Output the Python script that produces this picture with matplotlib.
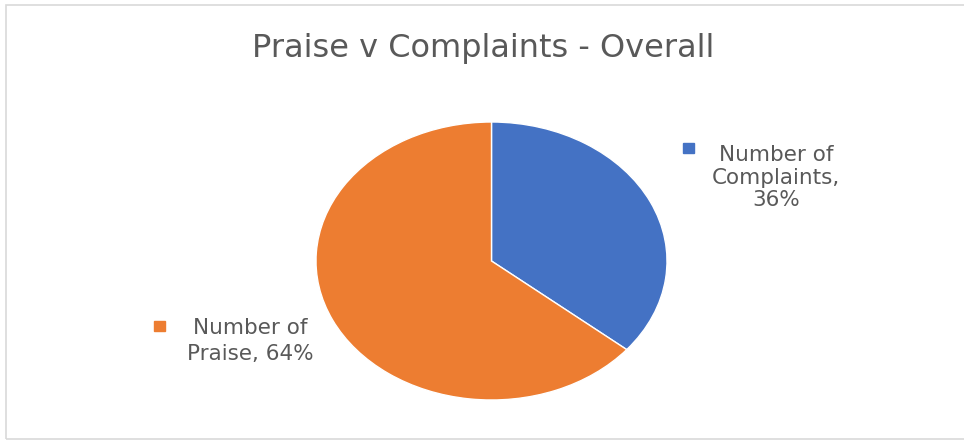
import matplotlib.pyplot as plt
from matplotlib.patches import Rectangle

plt.rcParams['font.family'] = ['DejaVu Sans']

labels = [["Number of", "Complaints,", "36%"], ["Number of", "Praise, 64%"]]
values = [36, 64]
colors = ["#4472C4", "#ED7D31"]
text_color = "#595959"

W, H = 964, 448
fig = plt.figure(figsize=(W / 100, H / 100), dpi=100)


def fx(px):
    return px / W


def fy(py):
    return 1 - py / H


# chart frame
fig.add_artist(Rectangle((fx(6), fy(439)), 1.0, 434 / H, transform=fig.transFigure,
                         fill=False, edgecolor="#d9d9d9", linewidth=1.2))

ax = fig.add_axes([fx(316), fy(400), 351 / W, 278 / H])
ax.pie(values, colors=colors, startangle=90, counterclock=False,
       wedgeprops=dict(edgecolor="white", linewidth=1))
ax.set_aspect('auto')
ax.set_xlim(-1, 1)
ax.set_ylim(-1, 1)
ax.axis('off')

fig.text(fx(483), fy(57), "Praise v Complaints - Overall", ha='center', va='baseline',
         fontsize=23, color=text_color)

# data labels with legend keys
for i, line in enumerate(labels[0]):
    fig.text(fx(776), fy(161 + 22.5 * i), line, ha='center', va='baseline',
             fontsize=15.5, color=text_color)
fig.add_artist(Rectangle((fx(683), fy(153)), 11 / W, 10 / H,
                         transform=fig.transFigure, color=colors[0]))

for i, line in enumerate(labels[1]):
    fig.text(fx(250), fy(334 + 26 * i), line, ha='center', va='baseline',
             fontsize=15.5, color=text_color)
fig.add_artist(Rectangle((fx(154), fy(331)), 11 / W, 10 / H,
                         transform=fig.transFigure, color=colors[1]))

fig.savefig("out.png", dpi=100)
